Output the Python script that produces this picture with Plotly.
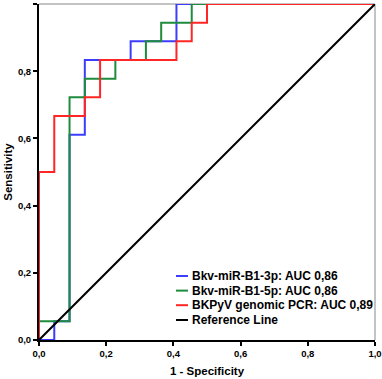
import plotly.graph_objects as go

# ROC coordinates (1 - specificity, sensitivity)
fpr_3p = [0, 1/22, 1/22, 2/22, 2/22, 3/22, 3/22, 6/22, 6/22, 9/22, 9/22, 1.0]
tpr_3p = [0, 0, 1/18, 1/18, 11/18, 11/18, 15/18, 15/18, 16/18, 16/18, 1.0, 1.0]

fpr_5p = [0, 0, 2/22, 2/22, 3/22, 3/22, 5/22, 5/22, 7/22, 7/22, 8/22, 8/22, 10/22, 10/22, 1.0]
tpr_5p = [0, 1/18, 1/18, 13/18, 13/18, 14/18, 14/18, 15/18, 15/18, 16/18, 16/18, 17/18, 17/18, 1.0, 1.0]

fpr_pcr = [0, 0, 1/22, 1/22, 3/22, 3/22, 4/22, 4/22, 9/22, 9/22, 10/22, 10/22, 11/22, 11/22, 1.0]
tpr_pcr = [0, 9/18, 9/18, 12/18, 12/18, 13/18, 13/18, 15/18, 15/18, 16/18, 16/18, 17/18, 17/18, 1.0, 1.0]

ref_x = [0, 1]
ref_y = [0, 1]

names = ["Bkv-miR-B1-3p: AUC 0,86", "Bkv-miR-B1-5p: AUC 0,86",
         "BKPyV genomic PCR: AUC 0,89", "Reference Line"]
colors = ["#3c3cff", "#1e8c3c", "#ff2626", "#000000"]

FONT = "Arial, Liberation Sans, sans-serif"

fig = go.Figure()
for xs, ys, nm, c in zip([fpr_3p, fpr_5p, fpr_pcr, ref_x], [tpr_3p, tpr_5p, tpr_pcr, ref_y], names, colors):
    fig.add_trace(go.Scatter(x=xs, y=ys, mode="lines", name=nm, showlegend=False,
                             line=dict(color=c, width=2), cliponaxis=False))

# compact legend (drawn as decoration in paper coordinates)
leg_x0, leg_x1, leg_tx = 0.4077, 0.4435, 0.449
leg_y = [0.1905, 0.147, 0.1036, 0.0595]
for nm, c, yy in zip(names, colors, leg_y):
    fig.add_shape(type="line", xref="paper", yref="paper", x0=leg_x0, x1=leg_x1, y0=yy, y1=yy,
                  line=dict(color=c, width=2))
    fig.add_annotation(xref="paper", yref="paper", x=leg_tx, y=yy, text=nm, showarrow=False,
                       xanchor="left", yanchor="middle",
                       font=dict(family=FONT, size=12, color="black", weight="bold"))

axis_common = dict(range=[0, 1], tickvals=[0, 0.2, 0.4, 0.6, 0.8, 1.0], tickformat=".1f",
                   showgrid=False, zeroline=False, showline=True, linecolor="black", linewidth=2,
                   ticks="outside", ticklen=4, tickwidth=1.5, tickcolor="black", automargin=False,
                   tickfont=dict(family=FONT, size=9.5, color="black", weight="bold"))
fig.update_xaxes(**axis_common, title=dict(text="1 - Specificity", standoff=9,
                 font=dict(family=FONT, size=11.5, color="black", weight="bold")))
fig.update_yaxes(**axis_common, title=dict(text="Sensitivity", standoff=3,
                 font=dict(family=FONT, size=11.5, color="black", weight="bold")))

# thin grey top and right frame
fig.add_shape(type="line", xref="paper", yref="paper", x0=0, x1=1, y0=1, y1=1,
              line=dict(color="#888888", width=1), layer="below")
fig.add_shape(type="line", xref="paper", yref="paper", x0=1, x1=1, y0=0, y1=1,
              line=dict(color="#888888", width=1), layer="below")

fig.update_layout(
    width=382, height=379,
    margin=dict(l=39, r=7, t=4, b=39),
    paper_bgcolor="white", plot_bgcolor="white",
    separators=",.",
    font=dict(family=FONT, color="black"),
    showlegend=False,
)

fig.write_html("out.html", config={"displayModeBar": False},
               post_script="document.body.style.margin='0';document.body.style.padding='0';")
